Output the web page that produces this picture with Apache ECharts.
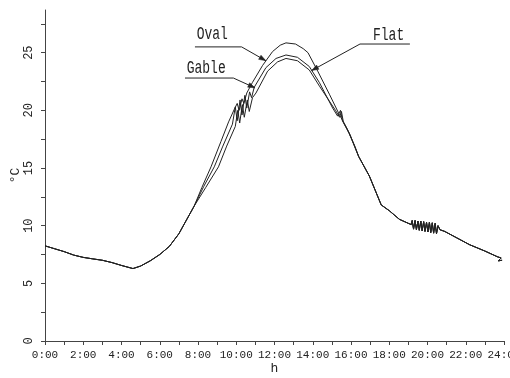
<!DOCTYPE html>
<html>
<head>
<meta charset="utf-8">
<script src="https://cdn.jsdelivr.net/npm/echarts@6/dist/echarts.min.js"></script>
<style>
  html, body { margin: 0; padding: 0; background: #fff; }
  #chart { width: 510px; height: 378px; }
</style>
</head>
<body>
<div id="chart"></div>
<script>
// Night and early morning: the three roofs read the same temperature.
const amHours = [0, 0.5, 1, 1.5, 2, 2.5, 3, 3.5, 4, 4.6, 5, 5.5, 6, 6.5, 7.0, 7.4, 7.8];
const amTemps = [8.25, 8.0, 7.75, 7.45, 7.25, 7.12, 7.0, 6.8, 6.55, 6.28, 6.5, 6.95, 7.5, 8.2, 9.3, 10.5, 11.7];

// Daytime per roof shape.
const ovalHours = [8.2, 8.68, 9.2, 9.6, 9.9, 10.05, 10.15, 10.3, 10.4, 10.55, 10.84, 11.38, 11.9, 12.3, 12.6, 13.1, 13.5, 13.75, 14.26, 14.87, 15.4, 15.8, 16.2];
const ovalTemps = [13.3, 15.1, 17.3, 19.0, 20.1, 20.6, 20.0, 21.0, 20.6, 21.5, 22.4, 23.9, 25.1, 25.65, 25.85, 25.75, 25.35, 25.0, 23.4, 21.4, 19.6, 18.4, 16.9];

const gableHours = [8.3, 8.85, 9.3, 9.8, 9.95, 10.05, 10.2, 10.3, 10.45, 10.55, 10.7, 10.8, 10.94, 11.55, 12.08, 12.6, 13.2, 13.82, 14.35, 15.04, 15.3, 15.45, 15.55, 15.9, 16.2];
const gableTemps = [13.4, 15.1, 16.9, 18.8, 20.3, 19.1, 20.9, 19.6, 21.3, 20.2, 21.6, 21.1, 22.0, 23.7, 24.5, 24.8, 24.6, 23.8, 22.4, 20.2, 19.5, 20.0, 19.1, 18.0, 16.85];

const flatHours = [8.4, 9.07, 9.5, 9.95, 10.08, 10.18, 10.32, 10.42, 10.58, 10.68, 10.85, 11.03, 11.64, 12.16, 12.6, 13.2, 13.82, 14.35, 15.2, 15.4, 15.5, 15.6, 15.95, 16.2];
const flatTemps = [13.3, 15.1, 16.9, 18.6, 20.0, 18.9, 20.5, 19.4, 20.9, 19.9, 21.1, 21.5, 23.4, 24.2, 24.5, 24.3, 23.5, 22.1, 19.97, 19.4, 19.9, 19.0, 17.9, 16.8];

// Evening and night: shared again, with the recorder jitter around 19:00-20:30.
const pmHours = [16.4, 16.96, 17.58, 18.0, 18.53, 19.0, 19.15, 19.2, 19.27, 19.35, 19.42, 19.5, 19.57, 19.65, 19.72, 19.8, 19.87, 19.95, 20.02, 20.1, 20.17, 20.25, 20.32, 20.4, 20.47, 20.55, 20.65, 20.9, 21.5, 22.2, 23.0, 23.66, 23.85, 23.7, 23.9];
const pmTemps = [16.0, 14.3, 11.8, 11.3, 10.55, 10.2, 10.1, 10.45, 9.7, 10.45, 9.65, 10.4, 9.6, 10.4, 9.55, 10.35, 9.5, 10.3, 9.45, 10.3, 9.4, 10.25, 9.35, 10.2, 9.3, 10.0, 9.65, 9.5, 8.97, 8.35, 7.8, 7.3, 7.2, 6.95, 7.0];

const seriesNames = ['Oval', 'Gable', 'Flat'];

// Axis ticks and labels.
const xTickHours = [0,1,2,3,4,5,6,7,8,9,10,11,12,13,14,15,16,17,18,19,20,21,22,23,24];
const xLabelHours = [0,2,4,6,8,10,12,14,16,18,20,22,24];
const yTickValues = [0, 2.5, 5, 7.5, 10, 12.5, 15, 17.5, 20, 22.5, 25, 27.5];
const yLabelValues = [0, 5, 10, 15, 20, 25];

function zip(hs, ts) { return hs.map((h, i) => [h, ts[i]]); }
function fullDay(hs, ts) { return zip(amHours, amTemps).concat(zip(hs, ts), zip(pmHours, pmTemps)); }

const seriesData = {
  Oval: fullDay(ovalHours, ovalTemps),
  Gable: fullDay(gableHours, gableTemps),
  Flat: fullDay(flatHours, flatTemps)
};

const labelFont = 'Liberation Mono';
const ink = '#222';

const chart = echarts.init(document.getElementById('chart'), null, { renderer: 'canvas' });

chart.setOption({
  animation: false,
  backgroundColor: '#fff',
  grid: { left: 45, right: 6, top: 10, bottom: 37, containLabel: false, outerBoundsMode: 'none' },
  xAxis: {
    type: 'value', min: 0, max: 24,
    name: 'h', nameLocation: 'middle', nameGap: 21, nameMoveOverlap: false,
    nameTextStyle: { fontFamily: labelFont, fontSize: 13, color: ink },
    axisLine: { lineStyle: { color: '#444', width: 1 } },
    axisTick: { length: 4, lineStyle: { color: '#444' }, customValues: xTickHours },
    axisLabel: {
      customValues: xLabelHours, margin: 9, hideOverlap: false,
      fontFamily: labelFont, fontSize: 11, color: ink,
      formatter: v => v + ':00'
    },
    splitLine: { show: false }
  },
  yAxis: {
    type: 'value', min: 0, max: 28.7,
    name: '°C', nameLocation: 'middle', nameGap: 23, nameRotate: 90, nameMoveOverlap: false,
    nameTextStyle: { fontFamily: labelFont, fontSize: 13, color: ink },
    axisLine: { show: true, lineStyle: { color: '#444', width: 1 } },
    axisTick: { show: true, length: 4, lineStyle: { color: '#444' }, customValues: yTickValues },
    axisLabel: {
      customValues: yLabelValues, rotate: 90, margin: 10,
      fontFamily: labelFont, fontSize: 12, color: ink
    },
    splitLine: { show: false }
  },
  series: seriesNames.map(name => ({
    name, type: 'line', data: seriesData[name],
    symbol: 'none', smooth: false,
    lineStyle: { color: ink, width: 1 }
  }))
});

// Callouts naming each curve: text, underline, leader and arrow head.
const callouts = [
  { text: 'Oval',  textAt: [7.93, 26.6],  under: [[7.84, 25.5], [10.28, 25.5]],  tip: [11.55, 24.3] },
  { text: 'Gable', textAt: [7.41, 23.65], under: [[7.32, 22.8], [9.85, 22.8]],   tip: [10.98, 21.95] },
  { text: 'Flat',  textAt: [17.15, 26.5], under: [[19.08, 25.75], [16.47, 25.75]], tip: [13.94, 23.45] }
];

function px(p) { return chart.convertToPixel({ gridIndex: 0 }, p); }

const elements = [];
callouts.forEach(c => {
  const t = px(c.textAt);
  const a = px(c.under[0]);
  const b = px(c.under[1]);
  const tip = px(c.tip);
  elements.push({
    type: 'text', x: t[0], y: t[1], originX: 0, originY: 0, scaleY: 1.35,
    style: { text: c.text, font: '13px "' + labelFont + '"', fill: ink, verticalAlign: 'middle' }
  });
  elements.push({
    type: 'polyline', shape: { points: [a, b, tip] },
    style: { stroke: ink, lineWidth: 1, fill: null }
  });
  const dx = tip[0] - b[0], dy = tip[1] - b[1];
  const len = Math.hypot(dx, dy);
  const ux = dx / len, uy = dy / len;
  const L = 7, W = 2.4;
  const base = [tip[0] - ux * L, tip[1] - uy * L];
  elements.push({
    type: 'polygon',
    shape: { points: [tip, [base[0] - uy * W, base[1] + ux * W], [base[0] + uy * W, base[1] - ux * W]] },
    style: { fill: ink, stroke: ink, lineWidth: 0.5 }
  });
});
chart.setOption({ graphic: { elements } });
</script>
</body>
</html>
